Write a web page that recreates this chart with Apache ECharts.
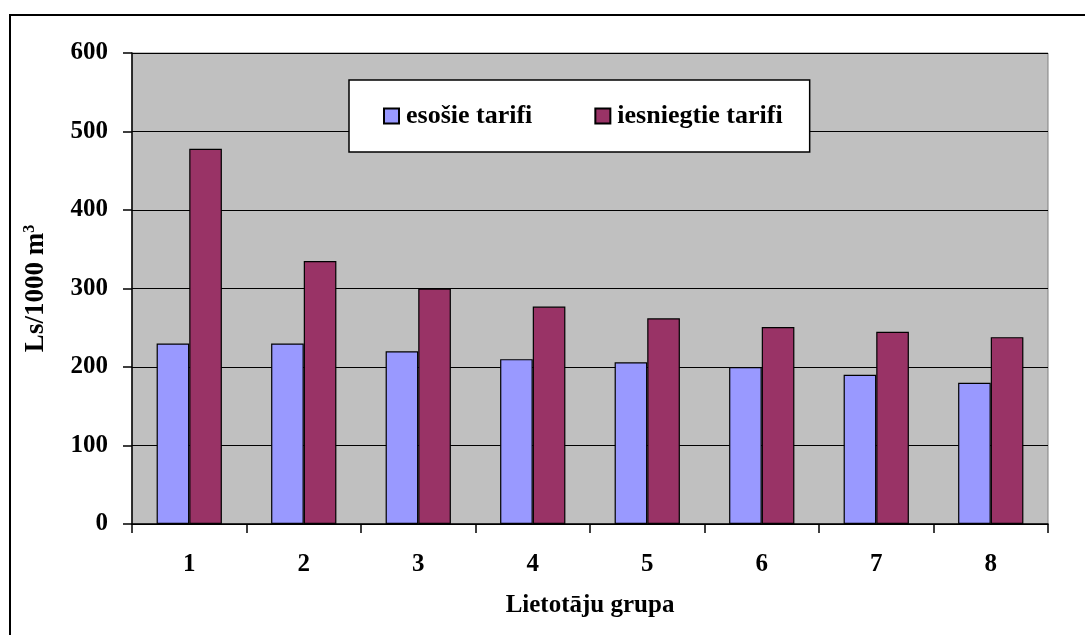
<!DOCTYPE html>
<html>
<head>
<meta charset="utf-8">
<script src="https://cdn.jsdelivr.net/npm/echarts@6/dist/echarts.min.js"></script>
<style>
html,body{margin:0;padding:0;background:#fff;}
#c{width:1085px;height:635px;}
</style>
</head>
<body>
<div id="c"></div>
<script>
var categories = ['1','2','3','4','5','6','7','8'];
var existingTariffs = [230, 230, 220, 210, 206, 200, 190, 180];
var submittedTariffs = [478, 335, 300, 277, 262, 251, 245, 238];
var seriesNames = ['esošie tarifi', 'iesniegtie tarifi'];
var yTicks = {min: 0, max: 600, interval: 100};

var FONT = "'Liberation Serif', 'Times New Roman', serif";
var chart = echarts.init(document.getElementById('c'), null, {renderer: 'canvas'});
chart.setOption({
  animation: false,
  backgroundColor: '#ffffff',
  graphic: [{
    type: 'rect',
    shape: {x: 10, y: 15, width: 1100, height: 700},
    style: {fill: 'none', stroke: '#000', lineWidth: 2},
    z: -1
  }],
  grid: {
    left: 132, right: 37, top: 53, bottom: 111,
    show: true, backgroundColor: '#C0C0C0', borderColor: '#808080', borderWidth: 1
  },
  legend: {
    left: 349, top: 80,
    padding: [23, 27, 23, 34],
    backgroundColor: '#ffffff',
    borderColor: '#000', borderWidth: 1.5,
    itemWidth: 15, itemHeight: 15, itemGap: 62,
    icon: 'rect',
    textStyle: {fontFamily: FONT, fontWeight: 'bold', fontSize: 26, color: '#000', padding: [0,0,0,2]},
    data: seriesNames
  },
  xAxis: {
    type: 'category',
    data: categories,
    name: 'Lietotāju grupa',
    nameLocation: 'middle',
    nameGap: 69,
    nameTextStyle: {fontFamily: FONT, fontWeight: 'bold', fontSize: 25, color: '#000', verticalAlign: 'top'},
    axisLine: {lineStyle: {color: '#000', width: 1.5}},
    axisTick: {show: true, length: 9, lineStyle: {color: '#000', width: 1.5}},
    axisLabel: {fontFamily: FONT, fontWeight: 'bold', fontSize: 25, color: '#000', margin: 28},
    splitLine: {show: false}
  },
  yAxis: {
    type: 'value',
    min: yTicks.min, max: yTicks.max, interval: yTicks.interval,
    name: 'Ls/1000 m{sup|3}',
    nameLocation: 'middle',
    nameGap: 82,
    nameRotate: 90,
    nameTextStyle: {fontFamily: FONT, fontWeight: 'bold', fontSize: 27, color: '#000',
      rich: {sup: {fontFamily: FONT, fontWeight: 'bold', fontSize: 16, color: '#000', verticalAlign: 'top', padding: [0,0,12,0]}}},
    axisLine: {show: true, lineStyle: {color: '#000', width: 1.5}},
    axisTick: {show: true, length: 9, lineStyle: {color: '#000', width: 1.5}},
    axisLabel: {fontFamily: FONT, fontWeight: 'bold', fontSize: 25, color: '#000', margin: 24},
    splitLine: {show: true, lineStyle: {color: '#000', width: 1.2}}
  },
  series: [{
    name: seriesNames[0],
    type: 'bar',
    data: existingTariffs,
    barGap: '0%',
    barCategoryGap: '43%',
    itemStyle: {color: '#9999FF', borderColor: '#000', borderWidth: 1.2}
  }, {
    name: seriesNames[1],
    type: 'bar',
    data: submittedTariffs,
    itemStyle: {color: '#993366', borderColor: '#000', borderWidth: 1.2}
  }]
});
</script>
</body>
</html>
